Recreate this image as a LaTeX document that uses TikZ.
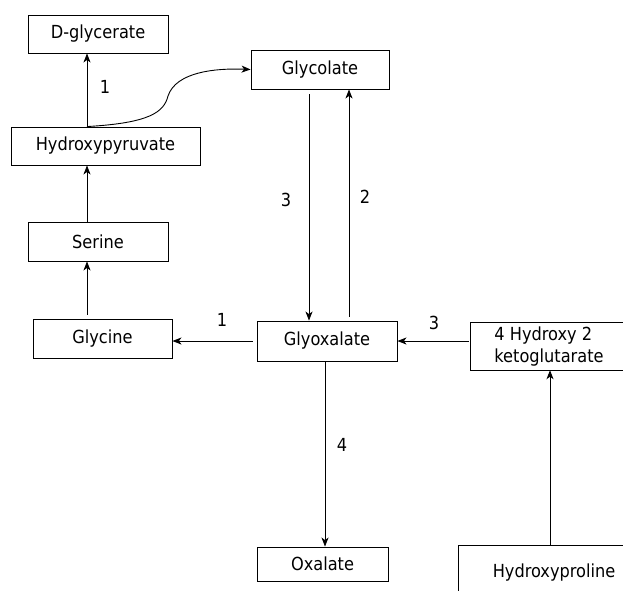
\documentclass[tikz,border=0pt]{standalone}
\usepackage{fontspec}
\setmainfont{DejaVu Sans Condensed}
\usetikzlibrary{arrows.meta}
\begin{document}
\begin{tikzpicture}[x=1pt,y=-1pt,
  box/.style={draw, line width=0.9pt, inner sep=0pt, font=\fontsize{18}{22}\selectfont},
  plain/.style={inner sep=0pt, font=\fontsize{18}{22}\selectfont, align=left},
  arr/.style={line width=0.9pt, -{Stealth[length=9pt,width=7pt,inset=2.5pt]}},
  lbl/.style={inner sep=0pt, font=\fontsize{18}{22}\selectfont}]
\useasboundingbox (0,0) rectangle (623,590);
\clip (0,0) rectangle (623,590);
% nodes
\node[box, minimum width=140pt, minimum height=38pt] (dg) at (98,34) {D-glycerate};
\node[box, minimum width=138pt, minimum height=39pt] (gc) at (320,69.5) {Glycolate};
\node[box, minimum width=189pt, minimum height=38pt] (hpy) at (105.5,146) {Hydroxypyruvate};
\node[box, minimum width=140pt, minimum height=39pt] (ser) at (98,241.5) {Serine};
\node[box, minimum width=139pt, minimum height=39pt] (gly) at (102.5,338.5) {Glycine};
\node[box, minimum width=140pt, minimum height=40pt] (gx) at (327,341) {Glyoxalate};
\node[box, minimum width=131pt, minimum height=34pt] (ox) at (322.5,564) {Oxalate};
\node[plain, minimum width=156pt, minimum height=47pt] (kg) at (549,346.5) {4 Hydroxy 2\\ketoglutarate};
\draw[line width=0.9pt] (kg.north west) rectangle ([xshift=100pt]kg.south east);
\node[plain, minimum width=190pt, minimum height=54pt] (hp) at (554,573) {Hydroxyproline};
\draw[line width=0.9pt] (hp.north west) rectangle ([xshift=60pt]hp.south east);
% columns / rows
\coordinate (colA) at (87,0);
\coordinate (colB) at (309,0);
\coordinate (colC) at (349,0);
\coordinate (colD) at (325,0);
\coordinate (colE) at (550,0);
\coordinate (rowA) at (0,341);
% labels
\node[lbl] (l1) at (105,87) {1};
\node[lbl] (l3a) at (286,200) {3};
\node[lbl] (l2) at (365,197) {2};
\node[lbl] (l1b) at (222,320) {1};
\node[lbl] (l3b) at (434,323) {3};
\node[lbl] (l4) at (342,445) {4};
% connectors
\draw[arr] (hpy.north -| colA) -- (dg.south -| colA);
\draw[arr] (ser.north -| colA) -- (hpy.south -| colA);
\draw[arr, shorten <=4pt] (gly.north -| colA) -- (ser.south -| colA);
\draw[arr] (hpy.north -| colA) .. controls (150,123) and (164,112) .. (168,96)
  .. controls (176,72) and (215,68) .. (gc.west);
\draw[arr, shorten <=5pt] (gc.south -| colB) -- (gx.north -| colB);
\draw[arr, shorten <=4pt] (gx.north -| colC) -- (gc.south -| colC);
\draw[arr, shorten <=4pt] (gx.west |- rowA) -- (gly.east |- rowA);
\draw[arr, shorten <=2pt] (kg.west |- rowA) -- (gx.east |- rowA);
\draw[arr] (gx.south -| colD) -- (ox.north -| colD);
\draw[arr] (hp.north -| colE) -- (kg.south -| colE);
\end{tikzpicture}
\end{document}
